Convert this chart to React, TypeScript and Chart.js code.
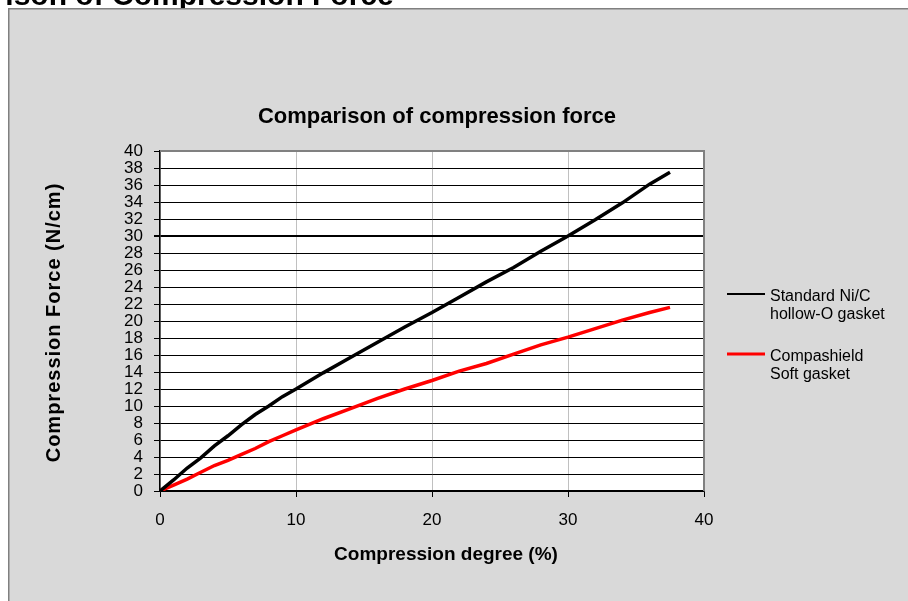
import React, { useEffect, useRef } from "react";
import { Chart, registerables } from "chart.js";

Chart.register(...registerables);

// ---- data ----
const compressionDegree = [0, 1, 2, 3, 4, 5, 6, 7, 8, 9, 10, 12, 14, 16, 18, 20, 22, 24, 26, 28, 30, 32, 34, 36, 37.5];
const standardForce = [0, 1.3, 2.7, 3.9, 5.3, 6.5, 7.8, 9.0, 10.0, 11.1, 12.0, 13.9, 15.7, 17.5, 19.3, 21.0, 22.8, 24.6, 26.3, 28.2, 30.0, 31.9, 33.9, 36.1, 37.5];
const compashieldForce = [0, 0.7, 1.4, 2.2, 3.0, 3.6, 4.3, 5.0, 5.8, 6.5, 7.2, 8.5, 9.7, 10.9, 12.0, 13.0, 14.1, 15.0, 16.1, 17.2, 18.1, 19.1, 20.1, 21.0, 21.6];

const xAxisRange = [0, 40];
const xAxisStep = 10;
const yAxisRange = [0, 40];
const yAxisStep = 2;
const highlightedForce = 30;

const pageHeading = "Comparison of Compression Force";
const chartTitle = "Comparison of compression force";
const xAxisTitle = "Compression degree (%)";
const yAxisTitle = "Compression Force (N/cm)";
const seriesLabels = [
  ["Standard Ni/C", "hollow-O gasket"],
  ["Compashield", "Soft gasket"],
];
const seriesColors = ["#000000", "#ff0000"];

const FONT = "'Liberation Sans', Arial, Helvetica, sans-serif";

const decorPlugin = {
  id: "decor",
  beforeDraw(chart: any) {
    const { ctx, width, height, chartArea: ca } = chart;
    ctx.save();
    ctx.fillStyle = "#ffffff";
    ctx.fillRect(0, 0, width, height);
    // cut-off heading at the very top
    ctx.fillStyle = "#000000";
    ctx.font = `bold 30px ${FONT}`;
    ctx.textAlign = "left";
    ctx.textBaseline = "alphabetic";
    ctx.fillText(pageHeading, -108, 5);
    // grey panel
    ctx.fillStyle = "#d9d9d9";
    ctx.fillRect(8, 8, width, height);
    ctx.strokeStyle = "#808080";
    ctx.lineWidth = 1.5;
    ctx.beginPath();
    ctx.moveTo(8.75, height);
    ctx.lineTo(8.75, 8.75);
    ctx.lineTo(width, 8.75);
    ctx.stroke();
    // plot area
    ctx.fillStyle = "#ffffff";
    ctx.fillRect(ca.left, ca.top, ca.right - ca.left, ca.bottom - ca.top);
    ctx.restore();
  },
  afterDraw(chart: any) {
    const { ctx, chartArea: ca } = chart;
    ctx.save();
    // top/right frame
    ctx.strokeStyle = "#808080";
    ctx.lineWidth = 2;
    ctx.beginPath();
    ctx.moveTo(ca.left, ca.top);
    ctx.lineTo(ca.right, ca.top);
    ctx.lineTo(ca.right, ca.bottom);
    ctx.stroke();

    ctx.fillStyle = "#000000";
    // main title
    ctx.font = `bold 22px ${FONT}`;
    ctx.textAlign = "center";
    ctx.textBaseline = "alphabetic";
    ctx.fillText(chartTitle, 437, 123);
    // x title
    ctx.font = `bold 19px ${FONT}`;
    ctx.fillText(xAxisTitle, 446, 559.5);
    // y title
    ctx.save();
    ctx.translate(60, 322.5);
    ctx.rotate(-Math.PI / 2);
    ctx.font = `bold 20px ${FONT}`;
    (ctx as any).letterSpacing = "1px";
    const w = ctx.measureText(yAxisTitle).width;
    ctx.textAlign = "left";
    ctx.fillText(yAxisTitle, -w / 2, 0);
    ctx.restore();

    // legend
    const legendRows = [
      { lineY: 294, baselines: [300.5, 318.5] },
      { lineY: 354, baselines: [360.5, 378.5] },
    ];
    ctx.font = `16px ${FONT}`;
    ctx.textAlign = "left";
    seriesLabels.forEach((lines, i) => {
      const row = legendRows[i];
      ctx.strokeStyle = seriesColors[i];
      ctx.lineWidth = i === 0 ? 2 : 3;
      ctx.beginPath();
      ctx.moveTo(727, row.lineY);
      ctx.lineTo(765, row.lineY);
      ctx.stroke();
      ctx.fillStyle = "#000000";
      lines.forEach((t, j) => ctx.fillText(t, 770, row.baselines[j]));
    });
    ctx.restore();
  },
};

export default function App() {
  const canvasRef = useRef<HTMLCanvasElement | null>(null);

  useEffect(() => {
    const canvas = canvasRef.current;
    if (!canvas) return;
    const toPoints = (ys: number[]) => compressionDegree.map((x, i) => ({ x, y: ys[i] }));
    const chart = new Chart(canvas, {
      type: "line",
      data: {
        datasets: [
          {
            label: seriesLabels[0].join(" "),
            data: toPoints(standardForce),
            borderColor: seriesColors[0],
            backgroundColor: seriesColors[0],
            borderWidth: 3.5,
            pointRadius: 0,
            tension: 0,
          },
          {
            label: seriesLabels[1].join(" "),
            data: toPoints(compashieldForce),
            borderColor: seriesColors[1],
            backgroundColor: seriesColors[1],
            borderWidth: 3.5,
            pointRadius: 0,
            tension: 0,
          },
        ],
      },
      options: {
        responsive: false,
        animation: false,
        devicePixelRatio: 1,
        layout: { padding: { left: 100, right: 204, top: 151, bottom: 70 } },
        plugins: {
          legend: { display: false },
          title: { display: false },
          tooltip: { enabled: false },
        },
        scales: {
          x: {
            type: "linear",
            min: xAxisRange[0],
            max: xAxisRange[1],
            afterFit: (s: any) => {
              s.height = 40;
            },
            ticks: {
              stepSize: xAxisStep,
              color: "#000000",
              font: { family: FONT, size: 17 },
              padding: 13,
              maxRotation: 0,
              autoSkip: false,
            },
            grid: {
              color: "#c0c0c0",
              lineWidth: 1,
              tickColor: "#000000",
              tickLength: 6,
              drawTicks: true,
            },
            border: { color: "#000000", width: 1.5 },
          },
          y: {
            type: "linear",
            min: yAxisRange[0],
            max: yAxisRange[1],
            afterFit: (s: any) => {
              s.width = 60;
            },
            ticks: {
              stepSize: yAxisStep,
              color: "#000000",
              font: { family: FONT, size: 17 },
              padding: 11,
              autoSkip: false,
            },
            grid: {
              color: (c: any) => (c.tick && c.tick.value === yAxisRange[1] ? "#808080" : "#000000"),
              lineWidth: (c: any) => (c.tick && c.tick.value === highlightedForce ? 2 : 1),
              tickColor: "#000000",
              tickLength: 6,
              drawTicks: true,
            },
            border: { color: "#000000", width: 1.5 },
          },
        },
      },
      plugins: [decorPlugin],
    } as any);
    return () => chart.destroy();
  }, []);

  return (
    <div style={{ position: "fixed", left: 0, top: 0, width: 908, height: 601 }}>
      <canvas ref={canvasRef} width={908} height={601} style={{ display: "block", width: 908, height: 601 }} />
    </div>
  );
}
